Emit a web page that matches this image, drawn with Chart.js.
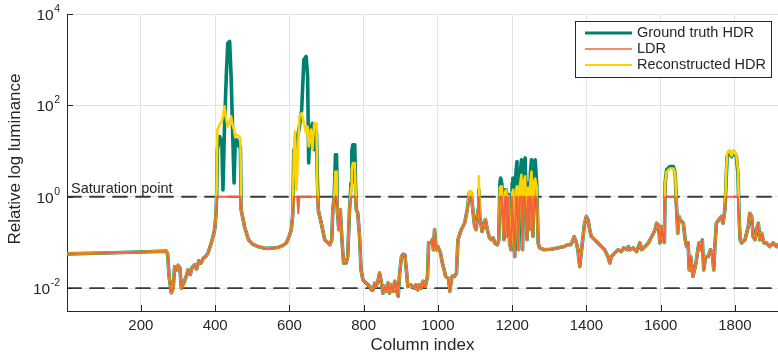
<!DOCTYPE html>
<html>
<head>
<meta charset="utf-8">
<script src="https://cdn.jsdelivr.net/npm/chart.js@4.4.1/dist/chart.umd.min.js"></script>
<style>
  html, body { margin: 0; padding: 0; background: #fff; }
  canvas { display: block; }
</style>
</head>
<body>
<canvas id="lumChart" width="778" height="359"></canvas>
<script>
// Sampled column positions along the scanline
var columns = [
    1, 100, 200, 268, 272, 276, 282, 287, 291, 297, 300, 305, 309, 315, 322, 327, 333, 338, 345, 350, 356, 362, 368, 375, 381, 386, 390, 395, 399, 402,
    404, 406, 412, 418, 421, 425, 430, 434, 439, 443, 446, 451, 454, 458, 464, 468,
    470, 479, 490, 500, 515, 530, 542, 556, 569, 582, 592, 600, 605, 609,
    612, 615, 619, 621, 624, 627, 633, 639, 645, 649, 652, 655, 658, 662, 667, 671, 673, 675,
    678, 686, 695, 709, 714, 717, 720, 722, 724, 727, 729, 733, 737, 742, 746, 753, 757, 762,
    766, 768, 771, 776, 778, 780, 784, 789, 793, 798,
    807, 816, 821, 825, 830, 834, 839, 843, 848, 852, 857, 861, 866, 870, 875, 879, 884, 888, 893, 897,
    902, 906, 911, 915, 919, 928, 937, 941, 946, 951, 955, 960, 966, 972, 975, 981, 985, 988, 991, 995,
    1000, 1007, 1012, 1021, 1029, 1032, 1038, 1045, 1050, 1054, 1063, 1072, 1079, 1085, 1090, 1094,
    1099, 1103, 1108, 1110, 1113, 1119, 1124, 1128, 1133, 1139, 1144, 1149, 1153, 1160, 1164,
    1167, 1169, 1172, 1175, 1178, 1181, 1184, 1187, 1190, 1193, 1197, 1200, 1202, 1205, 1207, 1210, 1213,
    1217, 1220, 1225, 1228, 1231, 1235, 1240, 1243, 1246, 1249, 1252, 1256, 1259, 1262, 1266, 1270, 1274,
    1286, 1304, 1322, 1340, 1349, 1358, 1362, 1367, 1373, 1377, 1382, 1386, 1391, 1395, 1400, 1404, 1409, 1413, 1422, 1431, 1440, 1449, 1458,
    1463, 1467, 1476, 1485, 1494, 1500, 1509, 1513, 1518, 1526, 1535, 1544, 1549, 1558, 1567, 1576, 1585, 1589, 1594, 1598, 1603, 1607, 1610,
    1612, 1616, 1625, 1634, 1639, 1643, 1646, 1649, 1652, 1661, 1666, 1670, 1674, 1677, 1681, 1687,
    1695, 1703, 1708, 1712, 1716, 1721, 1728, 1734, 1739, 1743, 1746, 1750, 1757, 1764, 1768, 1773,
    1776, 1779, 1785, 1791, 1797, 1804, 1808, 1812, 1814, 1818, 1827, 1836, 1840,
    1845, 1849, 1854, 1858, 1863, 1867, 1872, 1878, 1885, 1894, 1903, 1912, 1916
];

// LDR row, log10 luminance (clipped at the saturation point, 10^0)
var ldrLog = [
    -1.25, -1.23, -1.21, -1.19, -1.25, -1.75, -2.1, -2.0, -1.53, -1.6, -1.5, -1.55, -2.0, -1.9, -1.75, -1.6, -1.7, -1.55, -1.49, -1.58, -1.4, -1.45, -1.35, -1.3, -1.23, -1.1, -1.0, -0.85, -0.7, -0.4,
    0, 0, 0, 0, 0, 0, 0, 0, 0, 0, 0, 0, 0, 0, 0, 0,
    -0.28, -0.65, -0.94, -1.03, -1.09, -1.12, -1.13, -1.12, -1.11, -1.07, -1.01, -0.85, -0.72, -0.4,
    0, 0, 0, 0, -0.36, 0, 0, 0, 0, 0, 0, 0, 0, 0, 0, 0, 0, 0,
    -0.3, -0.58, -0.94, -1.05, -0.95, -0.28, -0.05, 0, 0, 0, -0.28, -0.72, -0.28, -1.01, -1.45, -1.45, -1.31, -0.28,
    0, 0, 0, 0, 0, -0.28, -0.35, -0.87, -1.6, -1.82,
    -1.89, -1.96, -2.04, -2.04, -1.89, -1.96, -1.82, -1.67, -1.89, -2.11, -1.96, -2.07, -1.89, -2.11, -1.93, -2.07, -1.85, -2.03, -2.18, -1.67,
    -1.31, -1.26, -1.27, -1.6, -1.96, -1.93, -2.0, -1.93, -2.04, -1.93, -2.0, -1.85, -1.96, -1.74, -1.01, -1.01, -0.94, -1.16, -0.72, -1.16,
    -1.09, -1.23, -1.45, -1.74, -1.8, -2.07, -1.74, -1.74, -1.67, -0.94, -0.72, -0.58, -0.28, 0, 0, -0.28,
    -0.65, -0.72, -0.28, 0, -0.43, -0.76, -0.61, -0.5, -0.72, -0.9, -0.94, -0.9, -1.01, -1.05, -0.94,
    0, 0, 0, -0.28, -0.94, 0, 0, -0.87, 0, -1.01, -1.16, 0, 0, -1.0, -1.31, 0, 0,
    -1.16, 0, 0, -1.16, 0, 0, -0.94, 0, -0.72, 0, 0, -0.87, 0, 0, 0, -1.01, -1.12,
    -1.16, -1.15, -1.12, -1.09, -1.05, -1.05, -0.98, -0.87, -1.01, -1.16, -1.53, -1.23, -0.87, -0.58, -0.43, -0.5, -0.72, -0.87, -0.94, -1.01, -1.09, -1.16, -1.31,
    -1.45, -1.31, -1.23, -1.16, -1.2, -1.12, -1.16, -1.09, -1.16, -1.12, -1.2, -1.01, -1.16, -1.09, -1.01, -0.87, -0.72, -0.58, -0.62, -1.01, -0.65, -0.94, -1.0,
    0, 0, 0, 0, 0, -0.28, -0.8, -0.43, -0.5, -0.58, -0.94, -1.09, -1.01, -1.6, -1.31, -1.74,
    -1.45, -1.01, -1.16, -0.94, -1.6, -1.31, -1.31, -1.16, -1.23, -1.6, -1.09, -0.58, -0.5, -0.43, -0.58, -0.28,
    0, 0, 0, 0, 0, 0, 0, -0.58, -0.94, -1.01, -0.94, -0.65, -0.36,
    -0.43, -0.87, -0.94, -0.72, -0.58, -0.94, -0.8, -1.01, -1.01, -1.09, -1.01, -1.09, -1.05
];

// Ground truth HDR where it rises above the LDR clip
var gtPeakCols = [
    406, 412, 418, 421, 425, 430, 434, 439, 443, 446, 451, 454, 458, 464, 468,
    612, 615, 619, 621, 624, 627, 633, 639, 645, 649, 652, 655, 658, 662, 667, 671, 673, 675,
    722, 724, 727, 766, 768, 771, 776, 778,
    1085, 1090, 1110,
    1167, 1169, 1172, 1181, 1184, 1190, 1200, 1202, 1210, 1213, 1220, 1225, 1231, 1235, 1243, 1249, 1252, 1259, 1262, 1266,
    1612, 1616, 1625, 1634, 1639,
    1776, 1779, 1785, 1791, 1797, 1804, 1808
];
var gtPeakLog = [
    1.03, 1.32, 1.2, 0.15, 1.47, 2.64, 3.36, 3.4, 2.64, 1.76, 0.3, 1.18, 1.25, 1.1, 1.1,
    1.03, 0.95, 1.1, 1.32, 1.4, 1.54, 1.9, 3.0, 3.07, 2.64, 0.74, 1.54, 1.3, 1.61, 1.03, 1.47, 1.4, 0.5,
    0.3, 0.92, 0.92, 0.3, 1.0, 1.14, 1.14, 0.3,
    0.1, 0.08, 0.15,
    0.3, 0.41, 0.3, 0.15, 0.15, 0.05, 0.3, 0.41, 0.5, 0.77, 0.3, 0.81, 0.5, 0.85, 0.3, 0.5, 0.81, 0.5, 0.81, 0.3,
    0.3, 0.59, 0.66, 0.66, 0.52,
    0.3, 0.88, 0.99, 0.88, 0.99, 0.88, 0.5
];

// Reconstructed HDR where it rises above the LDR clip
var recPeakCols = [
    404, 406, 412, 418, 421, 425, 430, 434, 439, 443, 446, 451, 454, 458, 464, 468,
    612, 615, 619, 621, 624, 627, 633, 639, 645, 649, 652, 655, 658, 662, 667, 671, 673, 675,
    722, 724, 727, 766, 768, 771, 776, 778,
    1085, 1090, 1110,
    1167, 1169, 1172, 1181, 1184, 1190, 1200, 1202, 1210, 1213, 1220, 1225, 1231, 1235, 1243, 1249, 1252, 1259, 1262, 1266,
    1612, 1616, 1625, 1634, 1639,
    1776, 1779, 1785, 1791, 1797, 1804, 1808
];
var recPeakLog = [
    0.2, 1.47, 1.58, 1.65, 1.76, 1.98, 1.69, 1.54, 1.65, 1.76, 1.6, 1.47, 1.32, 1.36, 1.33, 1.28,
    0.96, 1.43, 0.15, 0.5, 1.2, 1.76, 1.83, 1.61, 1.39, 1.54, 1.1, 1.3, 1.47, 1.03, 1.61, 1.55, 1.61, 0.3,
    0.2, 0.55, 0.55, 0.2, 0.6, 0.74, 0.74, 0.2,
    0.12, 0.12, 0.45,
    0.2, 0.23, 0.23, 0.1, 0.15, 0.02, 0.1, 0.15, 0.15, 0.23, 0.2, 0.48, 0.3, 0.45, 0.2, 0.3, 0.55, 0.3, 0.4, 0.2,
    0.3, 0.55, 0.62, 0.62, 0.52,
    0.4, 0.95, 1.02, 0.9, 1.02, 0.9, 0.6
];

var seriesNames = ['Ground truth HDR', 'LDR', 'Reconstructed HDR'];
var seriesColors = ['#00806f', '#f2633c', '#ffd200'];
var seriesWidths = [3.6, 2, 2.6];
var xTicks = [200, 400, 600, 800, 1000, 1200, 1400, 1600, 1800];
var yTickExp = [-2, 0, 2, 4];
var saturationLevel = 1;
var lowerLevel = 0.01;

var FONT = '"Liberation Sans", Arial, Helvetica, sans-serif';
var INK = '#262626';

// LDR profile with the listed peak values swapped in
function buildSeries(peakCols, peakLog) {
    var peaks = {};
    peakCols.forEach(function(c, i) { peaks[c] = peakLog[i]; });
    return columns.map(function(c, i) {
        var v = peaks.hasOwnProperty(c) ? peaks[c] : ldrLog[i];
        return { x: c, y: Math.pow(10, v) };
    });
}

function levelLine(level) {
    return [{ x: 1, y: level }, { x: 1916, y: level }];
}

var decorPlugin = {
    id: 'decor',
    afterDraw: function(chart) {
        var ctx = chart.ctx;
        var area = chart.chartArea;
        var xs = chart.scales.x;
        var ys = chart.scales.y;
        ctx.save();

        // inward tick marks
        ctx.strokeStyle = INK;
        ctx.lineWidth = 1;
        ctx.beginPath();
        xTicks.forEach(function(v) {
            var px = Math.round(xs.getPixelForValue(v)) + 0.5;
            ctx.moveTo(px, area.bottom);
            ctx.lineTo(px, area.bottom - 6);
        });
        yTickExp.forEach(function(e) {
            var py = Math.round(ys.getPixelForValue(Math.pow(10, e))) + 0.5;
            ctx.moveTo(area.left, py);
            ctx.lineTo(area.left + 6, py);
        });
        ctx.stroke();

        // x tick labels
        ctx.fillStyle = INK;
        ctx.font = '15px ' + FONT;
        ctx.textAlign = 'center';
        ctx.textBaseline = 'middle';
        xTicks.forEach(function(v) {
            ctx.fillText(String(v), xs.getPixelForValue(v), 326);
        });

        // y tick labels as 10 with a raised exponent
        ctx.textBaseline = 'alphabetic';
        ctx.textAlign = 'right';
        yTickExp.forEach(function(e) {
            var py = ys.getPixelForValue(Math.pow(10, e));
            var expText = String(e);
            ctx.font = '10.5px ' + FONT;
            var ew = ctx.measureText(expText).width;
            ctx.fillText(expText, 60, py - 2);
            ctx.font = '15.5px ' + FONT;
            ctx.fillText('10', 60 - ew - 0.5, py + 6);
        });

        // axis titles
        ctx.font = '17px ' + FONT;
        ctx.textAlign = 'center';
        ctx.textBaseline = 'middle';
        ctx.fillText('Column index', (area.left + area.right) / 2, 345);
        ctx.save();
        ctx.translate(15, 159);
        ctx.rotate(-Math.PI / 2);
        ctx.fillText('Relative log luminance', 0, 0);
        ctx.restore();

        // saturation label above the dashed line
        ctx.font = '14.5px ' + FONT;
        ctx.textAlign = 'left';
        ctx.textBaseline = 'alphabetic';
        ctx.fillText('Saturation point', 71, ys.getPixelForValue(saturationLevel) - 4);

        // legend box
        var bx = 575.5, by = 21.5, bw = 196, bh = 56;
        ctx.fillStyle = '#fff';
        ctx.fillRect(bx, by, bw, bh);
        ctx.strokeStyle = INK;
        ctx.lineWidth = 1;
        ctx.strokeRect(bx, by, bw, bh);
        ctx.font = '14.5px ' + FONT;
        ctx.textBaseline = 'middle';
        seriesNames.forEach(function(name, i) {
            var ry = 33 + i * 16;
            ctx.strokeStyle = seriesColors[i];
            ctx.lineWidth = i === 0 ? 3 : (i === 1 ? 1.6 : 2.2);
            ctx.beginPath();
            ctx.moveTo(585, ry);
            ctx.lineTo(632, ry);
            ctx.stroke();
            ctx.fillStyle = INK;
            ctx.fillText(name, 637, ry);
        });

        ctx.restore();
    }
};

var lumChart = new Chart(document.getElementById('lumChart'), {
    type: 'line',
    data: {
        datasets: [
            {
                label: seriesNames[1],
                data: buildSeries([], []),
                borderColor: seriesColors[1],
                borderWidth: seriesWidths[1],
                order: 1
            },
            {
                label: seriesNames[2],
                data: buildSeries(recPeakCols, recPeakLog),
                borderColor: seriesColors[2],
                borderWidth: seriesWidths[2],
                order: 2
            },
            {
                label: seriesNames[0],
                data: buildSeries(gtPeakCols, gtPeakLog),
                borderColor: seriesColors[0],
                borderWidth: seriesWidths[0],
                order: 3
            },
            {
                label: 'saturation',
                data: levelLine(saturationLevel),
                borderColor: '#3a3a3a',
                borderWidth: 1.8,
                borderDash: [14, 9],
                order: 4
            },
            {
                label: 'lower',
                data: levelLine(lowerLevel),
                borderColor: '#3a3a3a',
                borderWidth: 1.8,
                borderDash: [14, 9],
                order: 5
            }
        ]
    },
    options: {
        responsive: false,
        animation: false,
        events: [],
        layout: { padding: { left: 67, top: 14, right: 0, bottom: 48 } },
        elements: {
            point: { radius: 0 },
            line: { tension: 0, borderJoinStyle: 'round', borderCapStyle: 'round' }
        },
        plugins: {
            legend: { display: false },
            tooltip: { enabled: false }
        },
        scales: {
            x: {
                type: 'linear',
                min: 1,
                max: 1916,
                afterBuildTicks: function(scale) {
                    scale.ticks = xTicks.map(function(v) { return { value: v }; });
                },
                ticks: { display: false },
                grid: { color: '#e3e3e3', drawTicks: false },
                border: { color: INK, width: 1 }
            },
            y: {
                type: 'logarithmic',
                min: Math.pow(10, -2.5),
                max: 1e4,
                afterBuildTicks: function(scale) {
                    scale.ticks = yTickExp.map(function(e) { return { value: Math.pow(10, e) }; });
                },
                ticks: { display: false },
                grid: { color: '#e3e3e3', drawTicks: false },
                border: { color: INK, width: 1 }
            }
        }
    },
    plugins: [decorPlugin]
});
</script>
</body>
</html>
